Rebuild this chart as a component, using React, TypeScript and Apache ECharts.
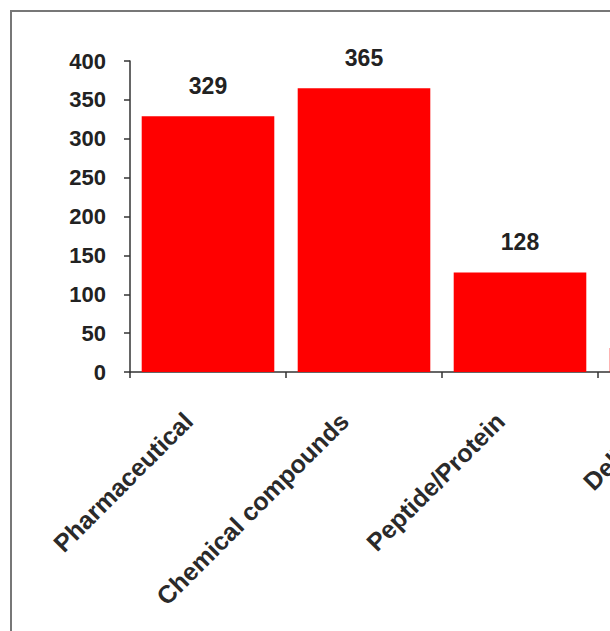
import React, { useEffect, useRef } from "react";
import * as echarts from "echarts";

const categories = ["Pharmaceutical", "Chemical compounds", "Peptide/Protein", "Delivery"];
const values = [329, 365, 128, 31];
const yMin = 0;
const yMax = 400;
const yInterval = 50;

export default function App() {
  const ref = useRef<HTMLDivElement>(null);
  useEffect(() => {
    const chart = echarts.init(ref.current!, null, { renderer: "svg" });
    chart.setOption({
      animation: false,
      backgroundColor: "#ffffff",
      graphic: [
        {
          type: "rect",
          shape: { x: 11, y: 11, width: 1200, height: 1200 },
          style: { fill: "none", stroke: "#777777", lineWidth: 2 },
          silent: true,
        },
      ],
      grid: { left: 130, right: 46, top: 61, bottom: 259, containLabel: false },
      xAxis: {
        type: "category",
        data: categories,
        boundaryGap: true,
        axisLine: { show: true, lineStyle: { color: "#333333", width: 1.5 } },
        axisTick: { show: true, alignWithLabel: false, length: 6, lineStyle: { color: "#333333", width: 1.5 } },
        axisLabel: {
          rotate: 45,
          interval: 0,
          margin: 25,
          padding: [0, 28, 0, 0],
          fontSize: 25,
          fontWeight: "bold",
          fontFamily: "Liberation Sans, Arial, sans-serif",
          color: "#2a2a2a",
        },
      },
      yAxis: {
        type: "value",
        min: yMin,
        max: yMax,
        interval: yInterval,
        splitLine: { show: false },
        axisLine: { show: true, lineStyle: { color: "#333333", width: 1.5 } },
        axisTick: { show: true, length: 6, lineStyle: { color: "#333333", width: 1.5 } },
        axisLabel: {
          margin: 24,
          fontSize: 22,
          fontWeight: "bold",
          fontFamily: "Liberation Sans, Arial, sans-serif",
          color: "#222222",
        },
      },
      series: [
        {
          type: "bar",
          data: values,
          barCategoryGap: "15%",
          itemStyle: { color: "#ff0000" },
          label: {
            show: true,
            position: "top",
            distance: 19,
            fontSize: 23,
            fontWeight: "bold",
            fontFamily: "Liberation Sans, Arial, sans-serif",
            color: "#222222",
          },
        },
      ],
    });
    return () => chart.dispose();
  }, []);
  return (
    <div
      style={{
        position: "fixed",
        left: 0,
        top: 0,
        width: 610,
        height: 631,
        overflow: "hidden",
        background: "#ffffff",
      }}
    >
      <div ref={ref} style={{ width: 800, height: 631 }} />
    </div>
  );
}
